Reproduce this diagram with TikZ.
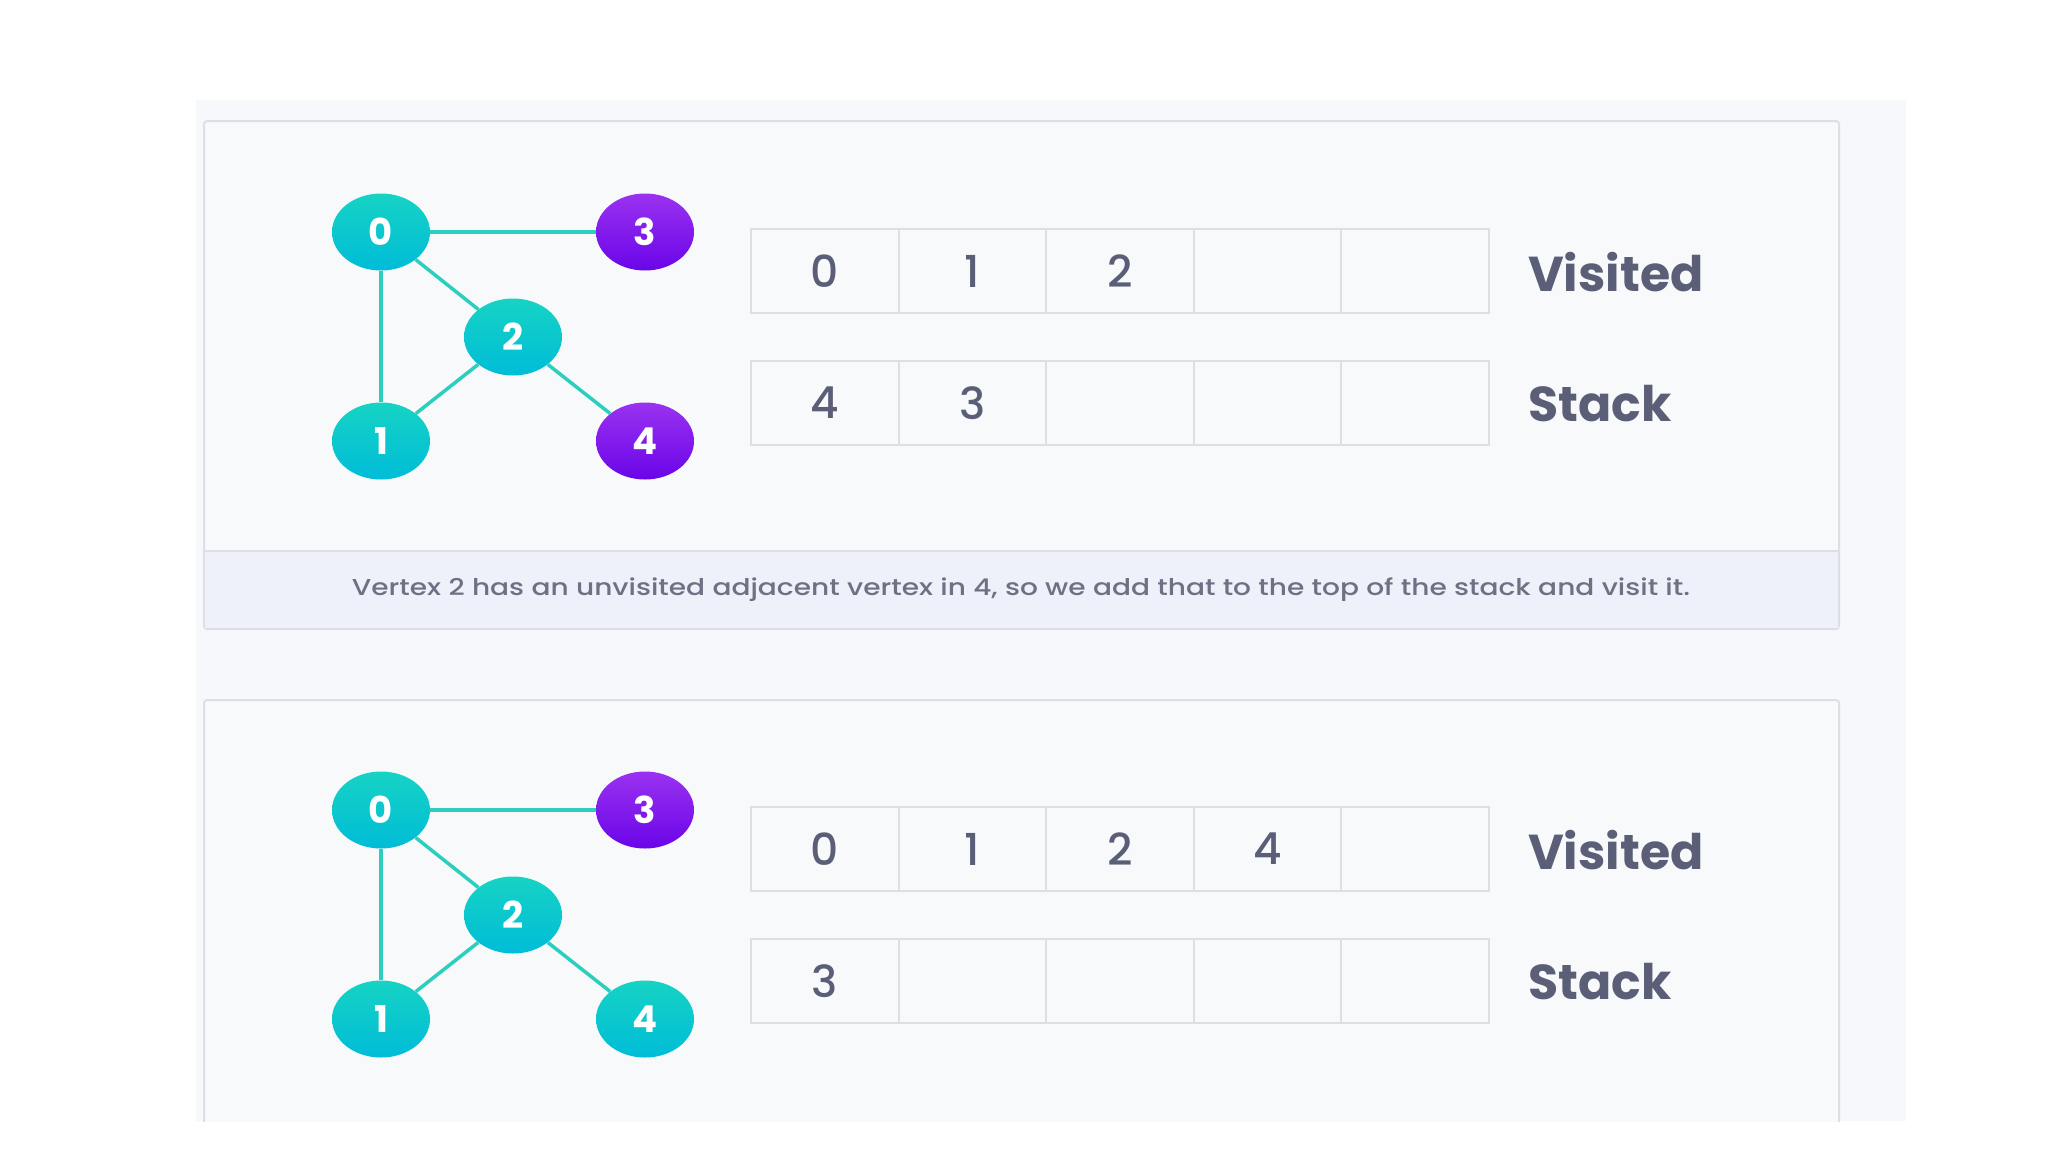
\documentclass[tikz,border=0pt]{standalone}
\usepackage{fontspec}
\setmainfont{Poppins}
\newfontfamily\pmed{Poppins Medium}
\usetikzlibrary{shapes.geometric}
\definecolor{outerbg}{HTML}{F6F8FB}
\definecolor{panelbg}{HTML}{F8F9FB}
\definecolor{panelline}{HTML}{DEDFE5}
\definecolor{capbg}{HTML}{EEF1FA}
\definecolor{edgecol}{HTML}{2CCFBD}
\definecolor{tealtop}{HTML}{16D3C4}
\definecolor{tealbot}{HTML}{00BCD8}
\definecolor{purtop}{HTML}{9A32F0}
\definecolor{purbot}{HTML}{6A05E8}
\definecolor{txt}{HTML}{5A5E77}
\definecolor{captxt}{HTML}{6E7184}
\tikzset{
  vtx/.style={ellipse, minimum width=98pt, minimum height=77pt, inner sep=0pt,
    text=white, font=\fontsize{37}{37}\selectfont\bfseries},
  teal/.style={vtx, top color=tealtop, bottom color=tealbot},
  purp/.style={vtx, top color=purtop, bottom color=purbot},
  edge/.style={draw=edgecol, line width=3.5pt},
  cell/.style={rectangle, draw=panelline, line width=2pt, fill=panelbg,
    minimum width=147.5pt, minimum height=84pt, inner sep=0pt,
    text=txt, font=\fontsize{44}{44}\selectfont\pmed},
  rowlabel/.style={anchor=west, text=txt, inner sep=0pt,
    font=\fontsize{49}{49}\selectfont\bfseries},
  panel/.style={draw=panelline, line width=2pt, fill=panelbg, rounded corners=3pt},
  caption/.style={text=captxt, inner sep=0pt, font=\fontsize{23}{23}\selectfont\pmed}
}
\begin{document}
\begin{tikzpicture}[x=1pt,y=-1pt]
\fill[white] (0,0) rectangle (2048,1152);
\path[use as bounding box] (0,0) rectangle (2048,1152);
\fill[outerbg] (196,100) rectangle (1906,1121);

% ---------- top panel ----------
\draw[panel] (204,121) rectangle (1839,629);
\fill[capbg] (205,552) rectangle (1838,628);
\draw[draw=panelline, line width=2pt] (204,551) -- (1839,551);
\node[caption] (tcap) at (1021,590) {\scalebox{1.22}[1]{Vertex 2 has an unvisited adjacent vertex in 4, so we add that to the top of the stack and visit it.}};

\node[teal] (t0) at (381,232) {0};
\node[purp] (t3) at (645,232) {3};
\node[teal] (t2) at (513,337) {2};
\node[teal] (t1) at (381,441) {1};
\node[purp] (t4) at (645,441) {4};
\draw[edge] (t0) -- (t3);
\draw[edge] (t0) -- (t2);
\draw[edge] (t0) -- (t1);
\draw[edge] (t1) -- (t2);
\draw[edge] (t2) -- (t4);

\node[cell] (tv0) at (825,271) {0};
\node[cell] (tv1) at (972.5,271) {1};
\node[cell] (tv2) at (1120,271) {2};
\node[cell] (tv3) at (1267.5,271) {};
\node[cell] (tv4) at (1415,271) {};
\node[rowlabel] (tvl) at (1528,272) {Visited};

\node[cell] (ts0) at (825,403) {4};
\node[cell] (ts1) at (972.5,403) {3};
\node[cell] (ts2) at (1120,403) {};
\node[cell] (ts3) at (1267.5,403) {};
\node[cell] (ts4) at (1415,403) {};
\node[rowlabel] (tsl) at (1528,404) {Stack};

% ---------- bottom panel ----------
\begin{scope}
\clip (0,0) rectangle (2048,1121);
\draw[panel] (204,700) rectangle (1839,1200);
\end{scope}

\node[teal] (b0) at (381,810) {0};
\node[purp] (b3) at (645,810) {3};
\node[teal] (b2) at (513,915) {2};
\node[teal] (b1) at (381,1019) {1};
\node[teal] (b4) at (645,1019) {4};
\draw[edge] (b0) -- (b3);
\draw[edge] (b0) -- (b2);
\draw[edge] (b0) -- (b1);
\draw[edge] (b1) -- (b2);
\draw[edge] (b2) -- (b4);

\node[cell] (bv0) at (825,849) {0};
\node[cell] (bv1) at (972.5,849) {1};
\node[cell] (bv2) at (1120,849) {2};
\node[cell] (bv3) at (1267.5,849) {4};
\node[cell] (bv4) at (1415,849) {};
\node[rowlabel] (bvl) at (1528,850) {Visited};

\node[cell] (bs0) at (825,981) {3};
\node[cell] (bs1) at (972.5,981) {};
\node[cell] (bs2) at (1120,981) {};
\node[cell] (bs3) at (1267.5,981) {};
\node[cell] (bs4) at (1415,981) {};
\node[rowlabel] (bsl) at (1528,982) {Stack};
\end{tikzpicture}
\end{document}
